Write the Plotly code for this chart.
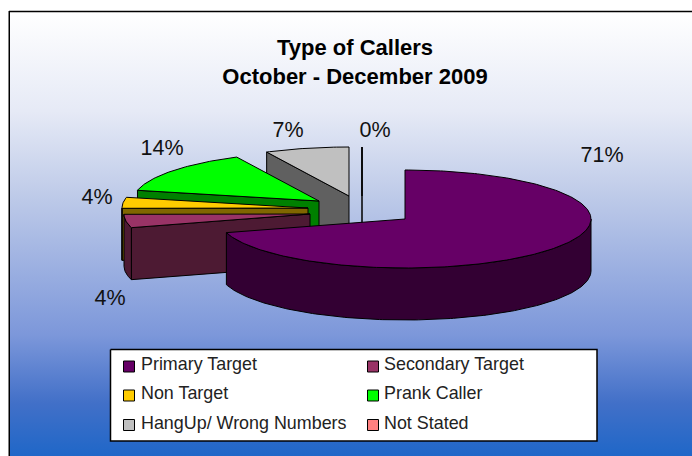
import math
import plotly.graph_objects as go

categories = ["Primary Target", "Secondary Target", "Non Target", "Prank Caller", "HangUp/ Wrong Numbers", "Not Stated"]
values = [70.5, 4.4, 3.6, 14.2, 7.3, 0]
pct_labels = ["71%", "4%", "4%", "14%", "7%", "0%"]

top_colors = ["#660066", "#993366", "#FFCC00", "#00FF00", "#C0C0C0", "#FF8080"]
side_colors = ["#330033", "#4D1A33", "#806600", "#008000", "#606060", "#804040"]
# pie apex of each exploded slice, and the place of each percentage label (page pixels)
apex_x = [405, 310, 308, 319, 349, 362]
apex_y = [219, 214, 208, 201, 196, 196]
label_x = [602, 110, 97, 162, 288, 375]
label_y = [157, 300, 199, 150, 132, 132]
# legend layout (page pixels)
legend_swatch_x = [129, 373, 129, 373, 129, 373]
legend_swatch_y = [366.5, 366.5, 395.5, 395.5, 425, 425]
legend_text_x = [140, 383, 140, 383, 140, 383]
legend_text_y = [364, 364, 393, 393, 422.5, 422.5]
RX, RY, DEPTH = 186, 49, 52
FONT = "Liberation Sans, Arial, sans-serif"

W, H = 692, 456
fig = go.Figure()

# background panel with vertical gradient
fig.add_trace(go.Scatter(
    x=[10, W + 5, W + 5, 10, 10], y=[12, 12, H + 5, H + 5, 12], mode="lines", fill="toself",
    line=dict(width=0), hoverinfo="skip", showlegend=False,
    fillgradient=dict(type="vertical", colorscale=[
        [0.0, "#1C66C8"], [0.13, "#4270C8"], [0.28, "#7C97DA"],
        [0.6, "#C0CCE9"], [0.78, "#E6EAF6"], [1.0, "#FFFFFF"]])))


def rim(cx, cy, a0, a1, dy=0):
    n = max(2, int(abs(a1 - a0)) + 1)
    pts = []
    for i in range(n + 1):
        a = math.radians(a0 + (a1 - a0) * i / n)
        pts.append((cx + RX * math.sin(a), cy - RY * math.cos(a) + dy))
    return pts


def poly(pts, color, name=None, lw=1):
    xs = [p[0] for p in pts] + [pts[0][0]]
    ys = [p[1] for p in pts] + [pts[0][1]]
    fig.add_trace(go.Scatter(x=xs, y=ys, mode="lines", fill="toself", fillcolor=color, name=name,
                             line=dict(color="#000000", width=lw), hoverinfo="skip", showlegend=False))


total = sum(values)
starts, a = [], 0.0
for v in values:
    starts.append(a)
    a += v / total * 360

# back-to-front painting order
for i in [5, 4, 3, 2, 1, 0]:
    a0 = starts[i]
    a1 = a0 + values[i] / total * 360
    cx, cy = apex_x[i], apex_y[i]
    if 180 < a0 < 360:  # cut face at slice start looks at the viewer
        e = rim(cx, cy, a0, a0)[0]
        poly([(cx, cy), e, (e[0], e[1] + DEPTH), (cx, cy + DEPTH)], side_colors[i])
    if 0 < a1 < 180:
        e = rim(cx, cy, a1, a1)[0]
        poly([(cx, cy), e, (e[0], e[1] + DEPTH), (cx, cy + DEPTH)], side_colors[i])
    f0, f1 = max(a0, 90), min(a1, 270)
    if f1 > f0:  # outer wall
        poly(rim(cx, cy, f0, f1) + rim(cx, cy, f1, f0, DEPTH), side_colors[i])
    poly([(cx, cy)] + rim(cx, cy, a0, a1), top_colors[i], name=categories[i])

# percentage labels
fig.add_trace(go.Scatter(x=label_x, y=label_y, mode="text", text=pct_labels,
                         textfont=dict(family=FONT, size=21.5, color="#111111"),
                         textposition="middle center", hoverinfo="skip", showlegend=False))

# legend box and entries
poly([(110.5, 349.5), (597, 349.5), (597, 441), (110.5, 441)], "#FFFFFF", lw=1.5)
annotations = []
for i, (name, col) in enumerate(zip(categories, top_colors)):
    fig.add_trace(go.Scatter(x=[legend_swatch_x[i]], y=[legend_swatch_y[i]], mode="markers", name=name,
                             marker=dict(symbol="square", size=11, color=col,
                                         line=dict(color="#000000", width=1)),
                             hoverinfo="skip", showlegend=False))
    annotations.append(dict(x=legend_text_x[i], y=legend_text_y[i], xref="x", yref="y", text=name,
                            showarrow=False, xanchor="left", yanchor="middle", borderpad=0,
                            font=dict(family=FONT, size=17.9, color="#222222")))

fig.update_layout(
    width=W, height=H, margin=dict(l=0, r=0, t=0, b=0), showlegend=False,
    paper_bgcolor="#FFFFFF", plot_bgcolor="rgba(0,0,0,0)",
    xaxis=dict(range=[0, W], visible=False, fixedrange=True),
    yaxis=dict(range=[H, 0], visible=False, fixedrange=True),
    title=dict(text="<b>Type of Callers<br>October - December 2009</b>", x=355 / W, xanchor="center",
               y=1 - 55 / H, yanchor="top", font=dict(family=FONT, size=22, color="#000000")),
    annotations=annotations,
    shapes=[
        dict(type="line", xref="x", yref="y", x0=8.5, x1=8.5, y0=11, y1=H, line=dict(color="#808080", width=1)),
        dict(type="line", xref="x", yref="y", x0=9.5, x1=9.5, y0=11.5, y1=H, line=dict(color="#000000", width=1)),
        dict(type="line", xref="x", yref="y", x0=9, x1=W, y0=11.5, y1=11.5, line=dict(color="#000000", width=1.5)),
    ],
)
fig.write_html("out.html", config=dict(displayModeBar=False),
               post_script="document.body.style.margin='0';document.documentElement.style.overflow='hidden';")
